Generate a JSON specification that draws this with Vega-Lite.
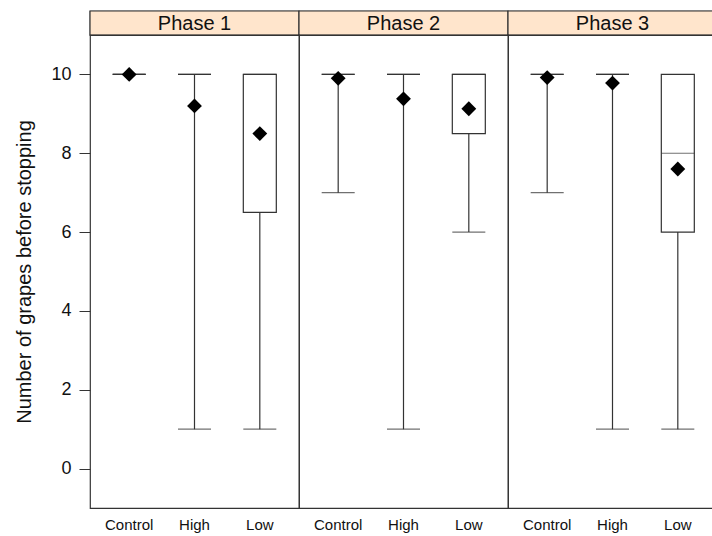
{
  "$schema": "https://vega.github.io/schema/vega-lite/v6.json",
  "padding": {"left": 14, "top": 9, "right": 0, "bottom": 5},
  "config": {
    "font": "Liberation Sans",
    "view": {"stroke": "#333", "strokeWidth": 1.2},
    "axis": {"grid": false}
  },
  "datasets": {
    "boxes": [
      {"phase": "Phase 1", "group": "Control", "lo": 10, "q1": 10, "med": 10, "q3": 10, "hi": 10, "mean": 10},
      {"phase": "Phase 1", "group": "High", "lo": 1, "q1": 10, "med": 10, "q3": 10, "hi": 10, "mean": 9.2},
      {"phase": "Phase 1", "group": "Low", "lo": 1, "q1": 6.5, "med": 10, "q3": 10, "hi": 10, "mean": 8.5},
      {"phase": "Phase 2", "group": "Control", "lo": 7, "q1": 10, "med": 10, "q3": 10, "hi": 10, "mean": 9.9},
      {"phase": "Phase 2", "group": "High", "lo": 1, "q1": 10, "med": 10, "q3": 10, "hi": 10, "mean": 9.38},
      {"phase": "Phase 2", "group": "Low", "lo": 6, "q1": 8.5, "med": 10, "q3": 10, "hi": 10, "mean": 9.13},
      {"phase": "Phase 3", "group": "Control", "lo": 7, "q1": 10, "med": 10, "q3": 10, "hi": 10, "mean": 9.92},
      {"phase": "Phase 3", "group": "High", "lo": 1, "q1": 10, "med": 10, "q3": 10, "hi": 10, "mean": 9.78},
      {"phase": "Phase 3", "group": "Low", "lo": 1, "q1": 6, "med": 8, "q3": 10, "hi": 10, "mean": 7.6}
    ],
    "phases": [
      {"phase": "Phase 1"},
      {"phase": "Phase 2"},
      {"phase": "Phase 3"}
    ]
  },
  "vconcat": [
    {
      "data": {"name": "phases"},
      "width": 627,
      "height": 24,
      "encoding": {
        "x": {"field": "phase", "type": "nominal", "scale": {"paddingInner": 0, "paddingOuter": 0}, "axis": null}
      },
      "layer": [
        {"mark": {"type": "rect", "fill": "#ffe5cc", "stroke": "#333", "strokeWidth": 1.2}},
        {"mark": {"type": "text", "fontSize": 20, "color": "#111", "baseline": "middle", "dy": 1}, "encoding": {"text": {"field": "phase"}}}
      ]
    },
    {
      "data": {"name": "boxes"},
      "facet": {"column": {"field": "phase", "type": "nominal", "title": null, "header": {"labels": false, "title": null}}},
      "spacing": 0,
      "bounds": "flush",
      "spec": {
        "width": 209,
        "height": 473,
        "encoding": {
          "x": {"field": "group", "type": "nominal", "scale": {"paddingInner": 0, "paddingOuter": 0.1},
            "axis": {"title": null, "ticks": false, "domain": false, "labelAngle": 0, "labelFontSize": 15, "labelPadding": 9, "labelColor": "#111"}}
        },
        "layer": [
          {"mark": {"type": "rule", "color": "#333", "strokeWidth": 1.2},
            "encoding": {"y": {"field": "lo", "type": "quantitative", "scale": {"domain": [-1, 11], "nice": false, "zero": false},
              "axis": {"values": [0, 2, 4, 6, 8, 10], "title": "Number of grapes before stopping", "titleFontSize": 20, "titleFontWeight": "normal", "titleColor": "#111", "titlePadding": 16, "domain": false, "tickSize": 11, "tickColor": "#333", "labelPadding": 8, "labelFontSize": 18, "labelColor": "#111"}},
              "y2": {"field": "hi"}}},
          {"mark": {"type": "bar", "fill": "white", "stroke": "#333", "strokeWidth": 1.2, "size": 33},
            "encoding": {"y": {"field": "q1", "type": "quantitative"}, "y2": {"field": "q3"}}},
          {"mark": {"type": "tick", "color": "#333", "thickness": 1.2, "size": 33},
            "encoding": {"y": {"field": "lo", "type": "quantitative"}}},
          {"mark": {"type": "tick", "color": "#333", "thickness": 1.2, "size": 33},
            "encoding": {"y": {"field": "med", "type": "quantitative"}}},
          {"mark": {"type": "point", "shape": "diamond", "filled": true, "color": "black", "opacity": 1, "size": 220},
            "encoding": {"y": {"field": "mean", "type": "quantitative"}}}
        ]
      }
    }
  ],
  "spacing": 0,
  "bounds": "flush"
}
